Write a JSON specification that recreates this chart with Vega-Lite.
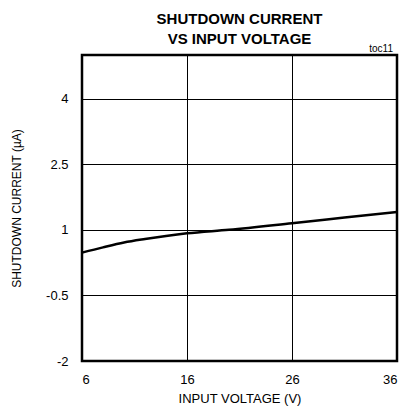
{
  "$schema": "https://vega.github.io/schema/vega-lite/v6.json",
  "autosize": {"type": "none"},
  "width": 315,
  "height": 306,
  "padding": {"left": 82, "top": 55, "right": 7, "bottom": 52},
  "background": "white",
  "config": {
    "font": "Liberation Sans",
    "view": {"stroke": "black", "strokeWidth": 2.5},
    "axis": {"grid": true, "gridColor": "black", "gridOpacity": 1, "gridWidth": 1, "domain": false, "ticks": false, "labelColor": "black", "titleColor": "black", "labelFontSize": 13, "titleFontSize": 12, "titleFontWeight": "normal", "labelFont": "Liberation Sans", "titleFont": "Liberation Sans"}
  },
  "title": {
    "text": ["SHUTDOWN CURRENT", "VS INPUT VOLTAGE"],
    "font": "Liberation Sans",
    "fontSize": 15,
    "fontWeight": "bold",
    "color": "black",
    "anchor": "middle",
    "lineHeight": 20,
    "offset": -3
  },
  "data": {"values": [
    {"v": 6, "i": 0.48},
    {"v": 8, "i": 0.6},
    {"v": 10, "i": 0.71},
    {"v": 12, "i": 0.79},
    {"v": 14, "i": 0.86},
    {"v": 16, "i": 0.92},
    {"v": 20, "i": 1.0},
    {"v": 26, "i": 1.15},
    {"v": 31, "i": 1.28},
    {"v": 36, "i": 1.41}
  ]},
  "layer": [
    {
      "mark": {"type": "line", "color": "black", "strokeWidth": 2.5, "interpolate": "monotone"},
      "encoding": {
        "x": {"field": "v", "type": "quantitative", "scale": {"domain": [6, 36], "nice": false, "zero": false}, "axis": {"values": [6, 16, 26, 36], "labelExpr": "'' + datum.value", "title": "INPUT VOLTAGE  (V)", "titleFontSize": 13, "labelPadding": 12, "titlePadding": 6}},
        "y": {"field": "i", "type": "quantitative", "scale": {"domain": [-2, 5], "nice": false, "zero": false}, "axis": {"values": [-2, -0.5, 1, 2.5, 4], "labelExpr": "'' + datum.value", "title": "SHUTDOWN CURRENT (µA)", "labelPadding": 14, "titlePadding": 22}}
      }
    },
    {
      "data": {"values": [{"label": "toc11"}]},
      "mark": {"type": "text", "align": "right", "baseline": "alphabetic", "dx": -4, "dy": -3, "fontSize": 10, "color": "black", "font": "Liberation Sans"},
      "encoding": {
        "x": {"datum": 36, "type": "quantitative"},
        "y": {"datum": 5, "type": "quantitative"},
        "text": {"field": "label"}
      }
    }
  ]
}
